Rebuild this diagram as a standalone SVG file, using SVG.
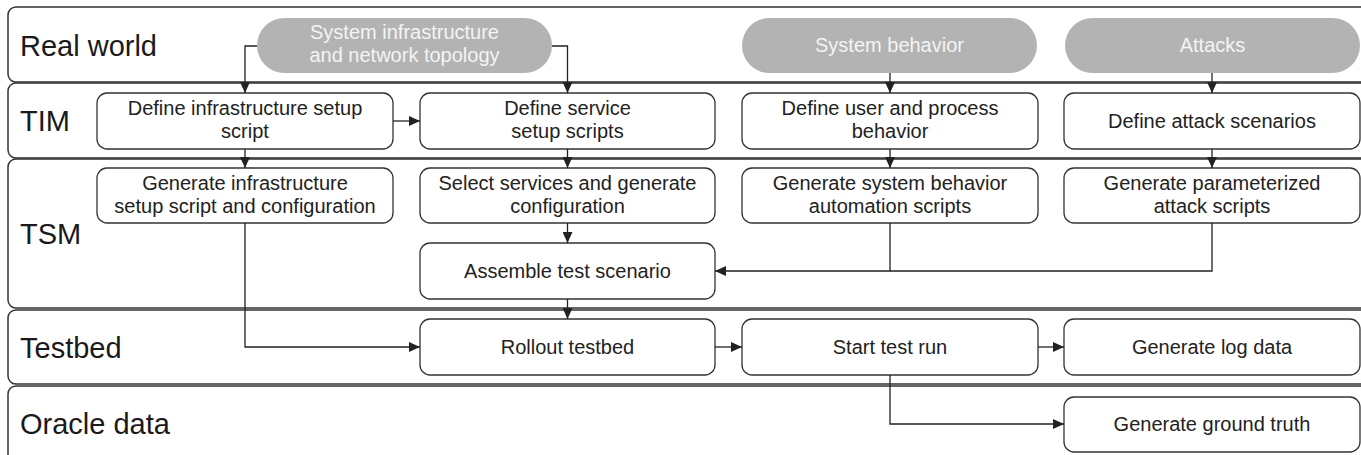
<svg xmlns="http://www.w3.org/2000/svg" width="1361" height="455" viewBox="0 0 1361 455">
<style>
.lane{fill:#fff;stroke:#333;stroke-width:1.5}
.box{fill:#fff;stroke:#333;stroke-width:1.3}
.pill{fill:#b3b3b3;stroke:none}
.lt{font-family:"Liberation Sans",Arial,sans-serif;font-size:29px;fill:#1a1a1a}
.bt{font-family:"Liberation Sans",Arial,sans-serif;font-size:20px;fill:#222;text-anchor:middle}
.pt{font-family:"Liberation Sans",Arial,sans-serif;font-size:20px;fill:#f4f4f4;text-anchor:middle}
.c{fill:none;stroke:#222;stroke-width:1.3}
</style>
<defs>
<marker id="ah" markerUnits="userSpaceOnUse" markerWidth="12" markerHeight="10" refX="11" refY="5" orient="auto">
<path d="M0,0 L11,5 L0,10 z" fill="#222"/>
</marker>
</defs>
<g id="lanes">
<g id="lane-real"><rect class="lane" x="8" y="7" width="1360" height="75" rx="8"/><text class="lt" x="20" y="56">Real world</text></g>
<g id="lane-tim"><rect class="lane" x="8" y="83" width="1360" height="75" rx="8"/><text class="lt" x="20" y="131">TIM</text></g>
<g id="lane-tsm"><rect class="lane" x="8" y="159" width="1360" height="149" rx="8"/><text class="lt" x="20" y="244">TSM</text></g>
<g id="lane-testbed"><rect class="lane" x="8" y="310" width="1360" height="74" rx="8"/><text class="lt" x="20" y="358">Testbed</text></g>
<g id="lane-oracle"><rect class="lane" x="8" y="386" width="1360" height="80" rx="8"/><text class="lt" x="20" y="434">Oracle data</text></g>
</g>
<g id="pill-infra"><rect class="pill" x="257" y="18" width="295" height="55" rx="27.5"/><text class="pt" x="404.5" y="39">System infrastructure</text><text class="pt" x="404.5" y="62">and network topology</text></g>
<g id="pill-behavior"><rect class="pill" x="742" y="18" width="295" height="55" rx="27.5"/><text class="pt" x="889.5" y="52">System behavior</text></g>
<g id="pill-attacks"><rect class="pill" x="1065" y="18" width="295" height="55" rx="27.5"/><text class="pt" x="1212.5" y="52">Attacks</text></g>
<g id="tim-infra"><rect class="box" x="97" y="93" width="296" height="56" rx="10"/><text class="bt" x="245" y="115">Define infrastructure setup</text><text class="bt" x="245" y="138">script</text></g>
<g id="tim-service"><rect class="box" x="420" y="93" width="295" height="56" rx="10"/><text class="bt" x="567.5" y="115">Define service</text><text class="bt" x="567.5" y="138">setup scripts</text></g>
<g id="tim-user"><rect class="box" x="742" y="93" width="296" height="56" rx="10"/><text class="bt" x="890" y="115">Define user and process</text><text class="bt" x="890" y="138">behavior</text></g>
<g id="tim-attack"><rect class="box" x="1064" y="93" width="296" height="56" rx="10"/><text class="bt" x="1212" y="128">Define attack scenarios</text></g>
<g id="tsm-infra"><rect class="box" x="97" y="168" width="296" height="55" rx="10"/><text class="bt" x="245" y="190">Generate infrastructure</text><text class="bt" x="245" y="213">setup script and configuration</text></g>
<g id="tsm-service"><rect class="box" x="420" y="168" width="295" height="55" rx="10"/><text class="bt" x="567.5" y="190">Select services and generate</text><text class="bt" x="567.5" y="213">configuration</text></g>
<g id="tsm-behavior"><rect class="box" x="742" y="168" width="296" height="55" rx="10"/><text class="bt" x="890" y="190">Generate system behavior</text><text class="bt" x="890" y="213">automation scripts</text></g>
<g id="tsm-attack"><rect class="box" x="1064" y="168" width="296" height="55" rx="10"/><text class="bt" x="1212" y="190">Generate parameterized</text><text class="bt" x="1212" y="213">attack scripts</text></g>
<g id="tsm-assemble"><rect class="box" x="420" y="243" width="295" height="56" rx="10"/><text class="bt" x="567.5" y="278">Assemble test scenario</text></g>
<g id="tb-rollout"><rect class="box" x="420" y="319" width="295" height="56" rx="10"/><text class="bt" x="567.5" y="354">Rollout testbed</text></g>
<g id="tb-start"><rect class="box" x="742" y="319" width="296" height="56" rx="10"/><text class="bt" x="890" y="354">Start test run</text></g>
<g id="tb-log"><rect class="box" x="1064" y="319" width="296" height="56" rx="10"/><text class="bt" x="1212" y="354">Generate log data</text></g>
<g id="or-truth"><rect class="box" x="1064" y="397" width="296" height="55" rx="10"/><text class="bt" x="1212" y="431">Generate ground truth</text></g>
<g id="connectors">
<path class="c" d="M257,46 H245 V93" marker-end="url(#ah)"/>
<path class="c" d="M552,46 H567.5 V93" marker-end="url(#ah)"/>
<path class="c" d="M890,73 V93" marker-end="url(#ah)"/>
<path class="c" d="M1212,73 V93" marker-end="url(#ah)"/>
<path class="c" d="M393,121 H420" marker-end="url(#ah)"/>
<path class="c" d="M245,149 V168" marker-end="url(#ah)"/>
<path class="c" d="M567.5,149 V168" marker-end="url(#ah)"/>
<path class="c" d="M890,149 V168" marker-end="url(#ah)"/>
<path class="c" d="M1212,149 V168" marker-end="url(#ah)"/>
<path class="c" d="M567.5,223 V243" marker-end="url(#ah)"/>
<path class="c" d="M1212,223 V271 H890"/>
<path class="c" d="M890,223 V271 H715" marker-end="url(#ah)"/>
<path class="c" d="M567.5,299 V319" marker-end="url(#ah)"/>
<path class="c" d="M245,223 V347 H420" marker-end="url(#ah)"/>
<path class="c" d="M715,347 H742" marker-end="url(#ah)"/>
<path class="c" d="M1038,347 H1064" marker-end="url(#ah)"/>
<path class="c" d="M890,375 V424 H1064" marker-end="url(#ah)"/>
</g>
</svg>
